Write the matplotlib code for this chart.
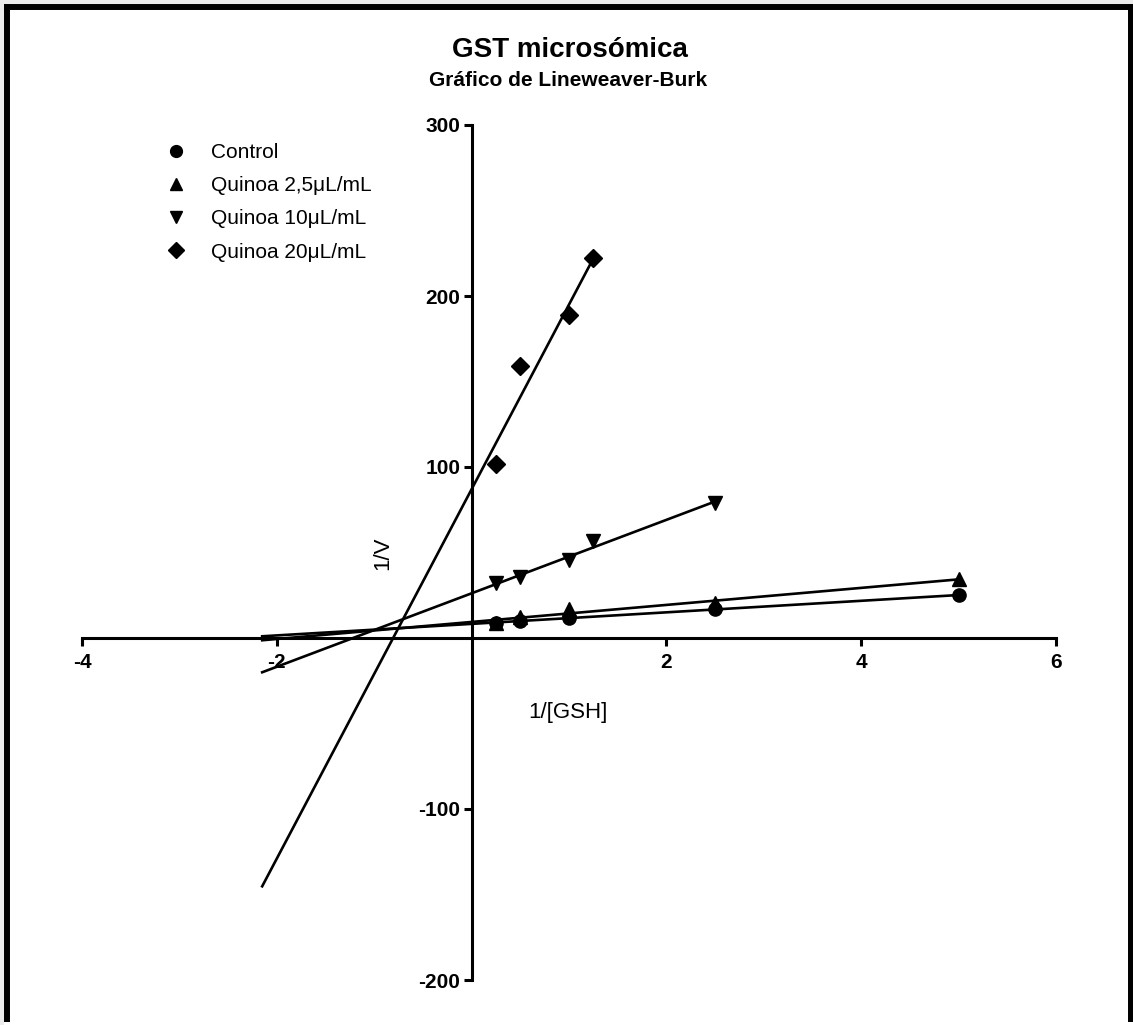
import numpy as np
import matplotlib
matplotlib.use("Agg")
import matplotlib.pyplot as plt
from matplotlib.patches import Rectangle
from matplotlib.lines import Line2D

plt.rcParams['font.family'] = ['Liberation Sans', 'DejaVu Sans']

# ---- data ----
series_names = ["Control", "Quinoa 2,5μL/mL", "Quinoa 10μL/mL", "Quinoa 20μL/mL"]
x_control = [0.25, 0.5, 1.0, 2.5, 5.0]
y_control = [9.0, 10.0, 11.5, 17.0, 25.0]
x_q25 = [0.25, 0.5, 1.0, 2.5, 5.0]
y_q25 = [9.0, 12.0, 17.0, 20.5, 34.5]
x_q10 = [0.25, 0.5, 1.0, 1.25, 2.5]
y_q10 = [32.0, 35.5, 45.6, 56.7, 79.0]
x_q20 = [0.25, 0.5, 1.0, 1.25]
y_q20 = [102.0, 159.0, 189.0, 222.0]

x_ticks = [-4, -2, 2, 4, 6]
y_ticks = [-200, -100, 100, 200, 300]
x_start_fit = -2.15

markers = ['o', '^', 'v', 'D']
msizes = [9.5, 10.5, 10.5, 9.5]

W, H = 1133, 1025
fig = plt.figure(figsize=(W / 100, H / 100), dpi=100)
fig.patch.set_facecolor('#ececec')

# white page with black border (left, top, right)
fig.patches.append(Rectangle((4 / W, 0), (W - 4) / W, 1 - 4 / H - 3 / H,
                             transform=fig.transFigure, facecolor='white',
                             edgecolor='none', zorder=-10))
for xy in [([7 / W, 7 / W], [3 / H, 1 - 4 / H]),
           ([4 / W, 1], [1 - 7 / H, 1 - 7 / H]),
           ([1131 / W, 1131 / W], [3 / H, 1 - 4 / H])]:
    fig.lines.append(Line2D(xy[0], xy[1], transform=fig.transFigure,
                            color='black', lw=4.3, solid_capstyle='butt', zorder=-5))

left, right = 82 / W, 1056 / W
bottom, top = (H - 980) / H, (H - 125) / H
ax = fig.add_axes([left, bottom, right - left, top - bottom])
ax.set_zorder(5)
ax.set_facecolor('none')
ax.set_xlim(-4, 6)
ax.set_ylim(-200, 300)

for s in ['top', 'right']:
    ax.spines[s].set_visible(False)
ax.spines['left'].set_position(('data', 0))
ax.spines['bottom'].set_position(('data', 0))
for s in ['left', 'bottom']:
    ax.spines[s].set_linewidth(2.2)

ax.set_xticks(x_ticks)
ax.set_yticks(y_ticks)
ax.set_xticklabels([str(v) for v in x_ticks])
ax.set_yticklabels([str(v) for v in y_ticks])
ax.tick_params(axis='x', direction='out', length=6, width=2.2, pad=5, labelsize=15)
ax.tick_params(axis='y', direction='out', length=6, width=2.2, pad=2, labelsize=15)
for lab in ax.get_xticklabels() + ax.get_yticklabels():
    lab.set_fontweight('bold')

all_x = [x_control, x_q25, x_q10, x_q20]
all_y = [y_control, y_q25, y_q10, y_q20]
for xs, ys, m, ms, name in zip(all_x, all_y, markers, msizes, series_names):
    xs = np.array(xs)
    ys = np.array(ys)
    slope, icpt = np.polyfit(xs, ys, 1)
    xl = np.array([x_start_fit, xs.max()])
    ax.plot(xl, slope * xl + icpt, color='black', lw=1.9, clip_on=False, zorder=3)
    ax.plot(xs, ys, linestyle='none', marker=m, markersize=ms, color='black',
            label=name, clip_on=False, zorder=4)

leg = ax.legend(loc='upper left', bbox_to_anchor=(163 / W, 1 - 143 / H),
                bbox_transform=fig.transFigure, frameon=False,
                fontsize=15, handlelength=1.2, handletextpad=1.1,
                labelspacing=0.68, borderaxespad=0, borderpad=0)
for h in leg.legend_handles:
    h.set_markersize(8.5)

ax.set_xlabel('1/[GSH]', fontsize=16)
ax.set_ylabel('1/V', fontsize=16)
ax.xaxis.set_label_coords(0.499, 0.313)
ax.yaxis.set_label_coords(0.309, 0.499)
ax.xaxis.label.set_va('center')
ax.yaxis.label.set_va('center')
ax.xaxis.label.set_ha('center')

fig.text(570 / W, 1 - 50 / H, 'GST microsómica', ha='center', va='center',
         fontsize=20, fontweight='bold')
fig.text(568 / W, 1 - 81 / H, 'Gráfico de Lineweaver-Burk', ha='center', va='center',
         fontsize=15, fontweight='bold')

fig.savefig('out.png', dpi=100, facecolor=fig.get_facecolor())
